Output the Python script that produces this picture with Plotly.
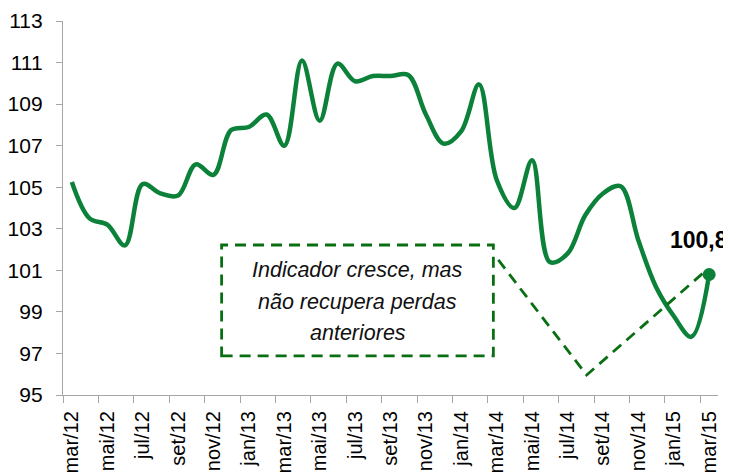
import plotly.graph_objects as go

months = ["mar/12", "abr/12", "mai/12", "jun/12", "jul/12", "ago/12", "set/12", "out/12",
          "nov/12", "dez/12", "jan/13", "fev/13", "mar/13", "abr/13", "mai/13", "jun/13",
          "jul/13", "ago/13", "set/13", "out/13", "nov/13", "dez/13", "jan/14", "fev/14",
          "mar/14", "abr/14", "mai/14", "jun/14", "jul/14", "ago/14", "set/14", "out/14",
          "nov/14", "dez/14", "jan/15", "fev/15", "mar/15"]

values = [105.25, 103.5, 103.2, 102.2, 105.15, 104.7, 104.6, 106.1, 105.6, 107.75,
          107.9, 108.5, 107.0, 111.1, 108.2, 110.95, 110.1, 110.35, 110.35, 110.4,
          108.5, 107.1, 107.7, 109.95, 105.35, 104.0, 106.3, 101.4, 101.8, 103.65,
          104.7, 105.05, 102.45, 100.2, 98.8, 97.8, 100.8]

tick_labels = ["mar/12", "mai/12", "jul/12", "set/12", "nov/12", "jan/13", "mar/13",
               "mai/13", "jul/13", "set/13", "nov/13", "jan/14", "mar/14", "mai/14",
               "jul/14", "set/14", "nov/14", "jan/15", "mar/15"]

y_ticks = [95, 97, 99, 101, 103, 105, 107, 109, 111, 113]

note_text = ["Indicador cresce, mas", "não recupera perdas", "anteriores"]
note_y = [101.0, 99.5, 98.0]

GREEN = "#0b813a"
DARK = "#0a6e12"
GRAY = "#a6a6a6"
FONT = "Liberation Sans, Arial, sans-serif"

n = len(months)
fig = go.Figure()

fig.add_trace(go.Scatter(
    x=months, y=values, mode="lines",
    line=dict(color=GREEN, width=4.5, shape="spline", smoothing=1.0),
    hoverinfo="skip", showlegend=False,
))
fig.add_trace(go.Scatter(
    x=[months[-1]], y=[values[-1]], mode="markers",
    marker=dict(color=GREEN, size=13),
    hoverinfo="skip", showlegend=False,
))
# invisible trace so the boundary-tick axis renders
fig.add_trace(go.Scatter(
    x=[-0.5], y=[y_ticks[0]], xaxis="x2", mode="markers",
    marker=dict(opacity=0), hoverinfo="skip", showlegend=False,
))

fig.update_layout(
    width=723, height=464,
    margin=dict(l=55, r=13, t=13, b=77),
    paper_bgcolor="white", plot_bgcolor="white",
    font=dict(family=FONT, color="black"),
    xaxis=dict(
        type="category", range=[-0.5, n - 0.5], automargin=False,
        tickmode="array", tickvals=tick_labels, ticktext=tick_labels,
        tickangle=-90, ticks="", showgrid=False, zeroline=False,
        showline=True, linecolor=GRAY, linewidth=1.3,
        tickfont=dict(size=20, family=FONT, color="black"),
        ticklabelstandoff=7,
    ),
    xaxis2=dict(
        overlaying="x", anchor="y", side="bottom", automargin=False,
        range=[-0.5, n - 0.5], tickmode="array",
        tickvals=[i - 0.5 for i in range(0, n, 2)],
        ticks="outside", ticklen=7, tickcolor=GRAY, tickwidth=1.3,
        showticklabels=False, showgrid=False, zeroline=False, showline=False,
    ),
    yaxis=dict(
        range=[95, 113], tickmode="array", tickvals=y_ticks, automargin=False,
        ticktext=[str(v) for v in y_ticks],
        ticks="outside", ticklen=6, tickcolor=GRAY, tickwidth=1.3,
        showline=True, linecolor=GRAY, linewidth=1.3,
        showgrid=False, zeroline=False,
        tickfont=dict(size=21, family=FONT, color="black"),
        ticklabelstandoff=9,
    ),
)

# dashed annotation box and connector
fig.add_shape(type="rect", xref="x2", yref="y", x0=8.46, x1=23.81, y0=96.88, y1=102.22,
              line=dict(color=DARK, width=2.8, dash="11px,7px"))
fig.add_shape(type="path", xref="x2", yref="y",
              path="M 24.09 101.5 L 29.08 95.96 L 35.86 101.02",
              line=dict(color=DARK, width=2.8, dash="11px,7px"))

for txt, yy in zip(note_text, note_y):
    fig.add_annotation(
        xref="x2", yref="y", x=16.14, y=yy,
        text="<i>" + txt + "</i>",
        showarrow=False, align="center",
        font=dict(size=21.5, family=FONT, color="#111111"),
    )

fig.add_annotation(
    x=months[-1], y=values[-1],
    text="<b>" + f"{values[-1]:.1f}".replace(".", ",") + "</b>",
    showarrow=False, xshift=-10, yshift=34,
    font=dict(size=23, family=FONT, color="black"),
)

fig.write_html("out.html")
